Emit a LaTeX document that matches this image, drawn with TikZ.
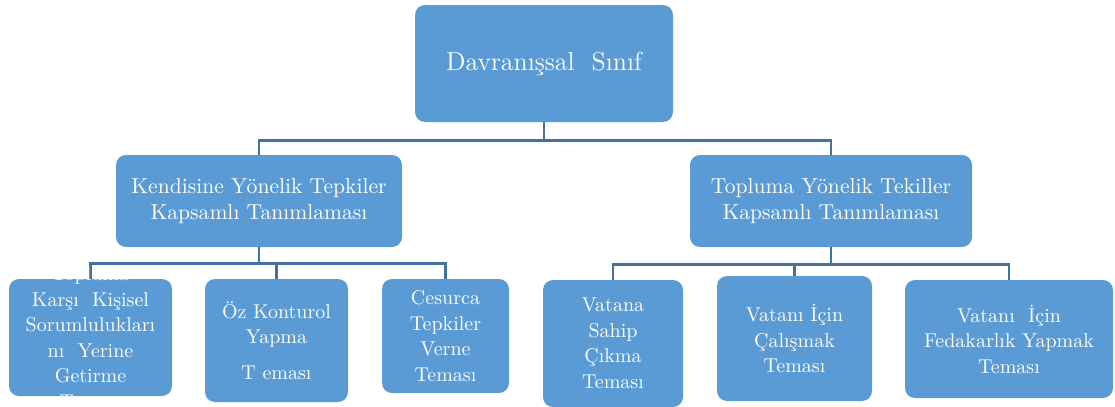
\documentclass[tikz,border=0pt]{standalone}
\usepackage{tikz}
\usepackage{xcolor}
\usetikzlibrary{positioning}
\definecolor{boxblue}{HTML}{5B9BD5}
\definecolor{linkblue}{HTML}{41719C}
\tikzset{
    box/.style={fill=boxblue, rounded corners=5pt, text=white, align=center, inner sep=1pt,
        font=\fontsize{10}{12.75}\selectfont},
    boxtext/.style={text=white, align=center, inner sep=0pt, font=\fontsize{10}{12.75}\selectfont},
    link/.style={draw=linkblue, line width=1.3pt},
}
\begin{document}
\begin{tikzpicture}[x=0.5pt,y=-0.5pt]
    \useasboundingbox (0,0) rectangle (1115,407);
    \node[box, minimum width=129pt, minimum height=58.5pt, font=\fontsize{13}{15}\selectfont]
        (sinif) at (544,63.5) {Davranışsal\ \ Sınıf};
    \node[box, minimum width=143pt, minimum height=46pt, font=\fontsize{10.8}{13}\selectfont]
        (kendi) at (259,201) {Kendisine Yönelik Tepkiler\\Kapsamlı Tanımlaması};
    \node[box, minimum width=141pt, minimum height=46pt, font=\fontsize{10.8}{13}\selectfont]
        (toplum) at (831,201) {Topluma Yönelik Tekiller\\Kapsamlı Tanımlaması};
    \node[box, minimum width=81.5pt, minimum height=58.5pt] (sorum) at (90.5,337.5) {};
    \node[box, minimum width=71.5pt, minimum height=61.5pt] (ozk) at (276.5,340.5)
        {Öz Konturol\\Yapma\\[5pt]T eması};
    \node[box, minimum width=63.5pt, minimum height=57pt] (cesur) at (445.5,336)
        {Cesurca\\Tepkiler\\Verne\\Teması};
    \node[box, minimum width=70pt, minimum height=63.5pt] (sahip) at (613,343.5)
        {Vatana\\Sahip\\Çıkma\\Teması};
    \node[box, minimum width=77.5pt, minimum height=62.5pt] (calis) at (794.5,338.5)
        {Vatanı İçin\\Çalışmak\\Teması};
    \node[box, minimum width=104pt, minimum height=59pt] (fedak) at (1009,339)
        {Vatanı\ \ İçin\\Fedakarlık Yapmak\\Teması};
    \draw[link] (sinif.south) -- ++(0,18) -| (kendi.north);
    \draw[link] (sinif.south) -- ++(0,18) -| (toplum.north);
    \foreach \c in {sorum,ozk,cesur}
        \draw[link] (kendi.south) -- ++(0,16) -| (\c.north);
    \foreach \c in {sahip,calis,fedak}
        \draw[link] (toplum.south) -- ++(0,17) -| (\c.north);
    \node[boxtext] (sorumtext) at (sorum)
        {Topluma\\Karşı\ \ Kişisel\\Sorumlulukları\\nı\ \ Yerine\\Getirme\\Teması};
\end{tikzpicture}
\end{document}
